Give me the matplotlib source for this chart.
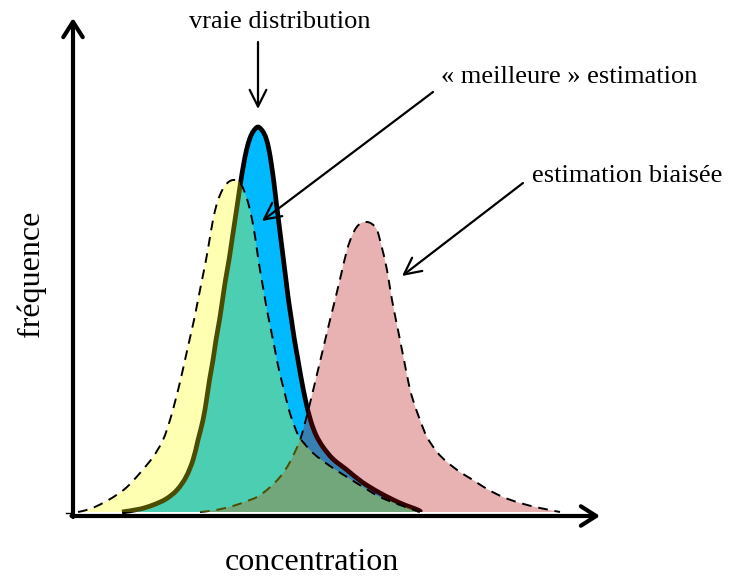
import matplotlib
matplotlib.use("Agg")
import matplotlib.pyplot as plt
import numpy as np
from matplotlib.path import Path
from matplotlib.patches import PathPatch

# courbes (concentration, fréquence), unités arbitraires
vraie_conc = [49, 67, 80, 93, 104, 113, 120, 125, 130, 133.5, 136.5, 140, 143, 146.5,
              149.5, 152.5, 156, 159, 162, 165, 167.5, 170.5, 173.5, 177, 180.5, 185,
              189.5, 193, 196, 198.5, 201, 203, 205.5, 208, 210.5, 213, 215.5, 218.5,
              221.5, 225, 228.5, 232.5, 237.5, 243, 250, 260, 274, 289, 307, 327, 345, 347]
vraie_freq = [0, 3, 7, 13, 22, 35, 52, 72, 92, 112, 132, 152, 172, 192,
              212, 232, 252, 272, 292, 312, 329, 347, 362, 374, 381, 385,
              381, 374, 362, 347, 329, 312, 292, 272, 252, 232, 212, 192,
              172, 152, 132, 112, 92, 77, 65, 53, 42, 30, 19, 9, 2, 0]

meil_conc = [5, 17, 30, 42, 54, 67, 80, 90, 97, 102.5, 107.5, 112, 116.5, 121, 125, 129,
             133, 136.5, 140, 143.5, 147, 151, 155.5, 160, 165, 169, 173, 177, 181, 184,
             187, 190.5, 194, 198, 202, 206, 211, 216, 221, 227, 240, 257, 274, 290, 307,
             327, 347]
meil_freq = [0, 3, 9, 16, 25, 39, 55, 72, 92, 112, 132, 152, 172, 192, 212, 232,
             252, 272, 292, 307, 317, 325, 330, 332, 331, 326, 316, 302, 282, 262,
             242, 222, 202, 182, 162, 142, 122, 102, 87, 74, 59, 46, 35, 25, 15,
             7, 0]

biais_conc = [127, 143, 160, 174, 184, 195, 207, 217, 227, 233.5, 239, 245, 251, 257, 262,
              268, 274, 278.5, 283, 288, 294, 299, 304, 309, 314, 319, 325, 331, 336, 340,
              347, 354, 364, 374, 387, 400, 414, 430, 447, 467, 487]
biais_freq = [0, 2, 6, 11, 15, 23, 35, 50, 72, 95, 117, 142, 167, 192, 212,
              237, 262, 275, 284, 289, 290, 288, 282, 264, 242, 212, 182, 152, 127, 112,
              92, 75, 60, 50, 40, 32, 23, 15, 9, 4, 0]

serif = "Liberation Serif"


def courbe(xs, ys, closed=False):
    # tracé lisse (Bézier) passant par les points lus
    p = np.column_stack([xs, ys]).astype(float)
    ext = np.vstack([p[0], p, p[-1]])
    verts = [p[0]]
    codes = [Path.MOVETO]
    for i in range(len(p) - 1):
        a, b, c, d = ext[i], ext[i + 1], ext[i + 2], ext[i + 3]
        verts += [b + (c - a) / 6, c - (d - b) / 6, c]
        codes += [Path.CURVE4] * 3
    if closed:
        verts += [p[0], p[0]]
        codes += [Path.LINETO, Path.CLOSEPOLY]
    return Path(verts, codes)


fig = plt.figure(figsize=(7.42, 5.80), dpi=100)
ax = fig.add_axes([0, 0, 1, 1])
ax.set_xlim(-73, 669)
ax.set_ylim(-68, 512)
ax.axis("off")

# vraie distribution (opaque, contour épais)
ax.add_patch(PathPatch(courbe(vraie_conc, vraie_freq, True), fc="#00B9FF", lw=0, zorder=1))
ax.add_patch(PathPatch(courbe(vraie_conc, vraie_freq), fill=False, ec="black", lw=3.4,
                       capstyle="butt", zorder=2))

# estimation biaisée
ax.add_patch(PathPatch(courbe(biais_conc, biais_freq, True), fc="#B60000", alpha=0.3,
                       lw=0, zorder=3))
ax.add_patch(PathPatch(courbe(biais_conc, biais_freq), fill=False, ec="black", lw=1.4,
                       ls=(0, (5, 3.5)), zorder=4))

# « meilleure » estimation
ax.add_patch(PathPatch(courbe(meil_conc, meil_freq, True), fc="#FFFF00", alpha=0.3,
                       lw=0, zorder=5))
ax.add_patch(PathPatch(courbe(meil_conc, meil_freq), fill=False, ec="black", lw=1.4,
                       ls=(0, (5, 3.5)), zorder=6))

# axes fléchés
axe = dict(arrowstyle="->,head_length=0.55,head_width=0.35", lw=3, color="black",
           shrinkA=0, shrinkB=0, mutation_scale=20)
ax.annotate("", xy=(0, 494), xytext=(0, -5), arrowprops=axe, zorder=7)
ax.annotate("", xy=(527, -4), xytext=(-1.5, -4), arrowprops=axe, zorder=7)
ax.plot([-7, 0], [-1, -1], color="black", lw=1, zorder=7)

fleche = dict(arrowstyle="->,head_length=0.6,head_width=0.3", lw=1.6, color="black",
              shrinkA=0, shrinkB=0, mutation_scale=20)
ax.text(189 - 73, 484, "vraie distribution", family=serif, fontsize=19, ha="left",
        va="baseline")
ax.annotate("", xy=(185, 403), xytext=(185, 470), arrowprops=fleche, zorder=8)
ax.text(441 - 73, 429, "« meilleure » estimation", family=serif, fontsize=19, ha="left",
        va="baseline")
ax.annotate("", xy=(189, 291), xytext=(360, 420), arrowprops=fleche, zorder=8)
ax.text(532 - 73, 329.5, "estimation biaisée", family=serif, fontsize=19, ha="left",
        va="baseline")
ax.annotate("", xy=(329, 236), xytext=(450, 329), arrowprops=fleche, zorder=8)

ax.text(-42, 238.5, "fréquence", family=serif, fontsize=23, rotation=90, ha="center",
        va="center")
ax.text(238.5, -58, "concentration", family=serif, fontsize=23, ha="center",
        va="baseline")

fig.savefig("out.png", dpi=100)
